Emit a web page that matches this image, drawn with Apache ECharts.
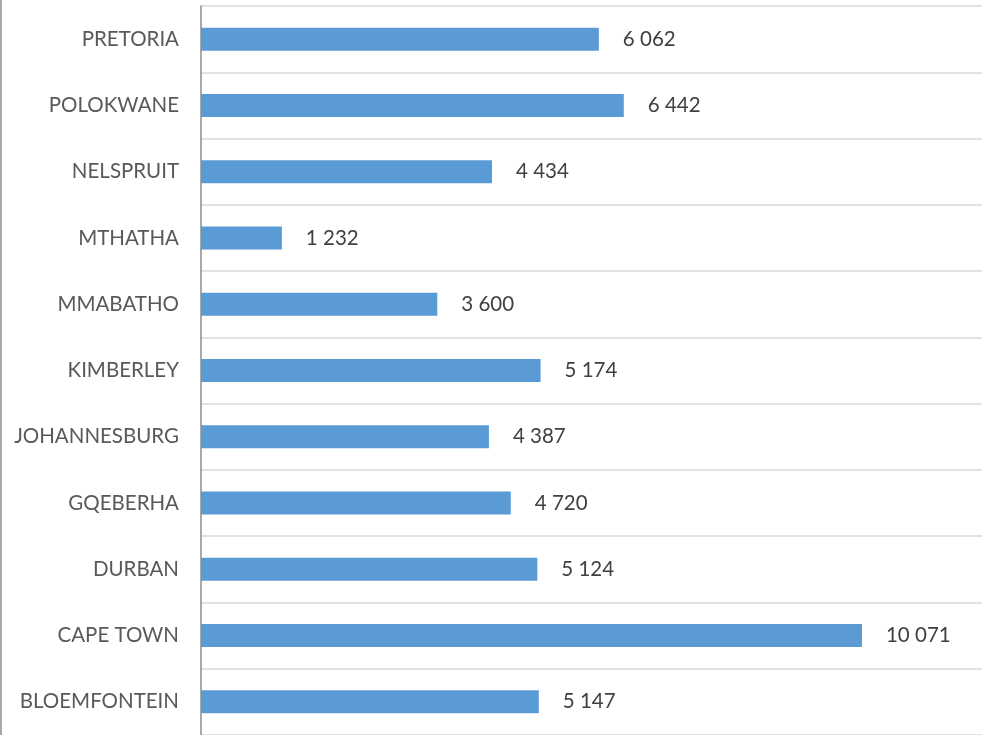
<!DOCTYPE html>
<html>
<head>
<meta charset="utf-8">
<script src="https://cdn.jsdelivr.net/npm/echarts@6/dist/echarts.min.js"></script>
<style>
  html, body { margin: 0; padding: 0; background: #fff; }
  #chartDom { width: 982px; height: 735px; }
</style>
</head>
<body>
<div id="chartDom"></div>
<script>
// categories bottom -> top
const cities = ['BLOEMFONTEIN', 'CAPE TOWN', 'DURBAN', 'GQEBERHA', 'JOHANNESBURG',
  'KIMBERLEY', 'MMABATHO', 'MTHATHA', 'NELSPRUIT', 'POLOKWANE', 'PRETORIA']
const counts = [5147, 10071, 5124, 4720, 4387, 5174, 3600, 1232, 4434, 6442, 6062]

const chart = echarts.init(document.getElementById('chartDom'))

function fmt (v) {
  return String(v).replace(/\B(?=(\d{3})+(?!\d))/g, ' ')
}

const option = {
  animation: false,
  textStyle: { fontFamily: 'Lato, "Open Sans", sans-serif' },
  grid: {
    left: 201,
    right: 0,
    top: 6,
    bottom: -2,
    containLabel: false
  },
  xAxis: {
    type: 'value',
    min: 0,
    max: 11900,
    show: false
  },
  yAxis: {
    type: 'category',
    data: cities,
    axisTick: { show: false },
    axisLine: { show: true, lineStyle: { color: '#8c8c8c', width: 1.5 } },
    splitLine: { show: true, lineStyle: { color: '#d9d9d9', width: 1.5 } },
    axisLabel: {
      color: '#595959',
      fontSize: 20.5,
      margin: 22
    }
  },
  series: [
    {
      type: 'bar',
      data: counts,
      barWidth: 23,
      itemStyle: { color: '#5b9bd5' },
      label: {
        show: true,
        position: 'right',
        distance: 24,
        color: '#404040',
        fontSize: 20.5,
        formatter: p => fmt(p.value)
      }
    }
  ],
  graphic: [
    {
      type: 'line',
      shape: { x1: 1, y1: 0, x2: 1, y2: 735 },
      style: { stroke: '#8c8c8c', lineWidth: 1.5 }
    }
  ]
}
chart.setOption(option)
</script>
</body>
</html>
